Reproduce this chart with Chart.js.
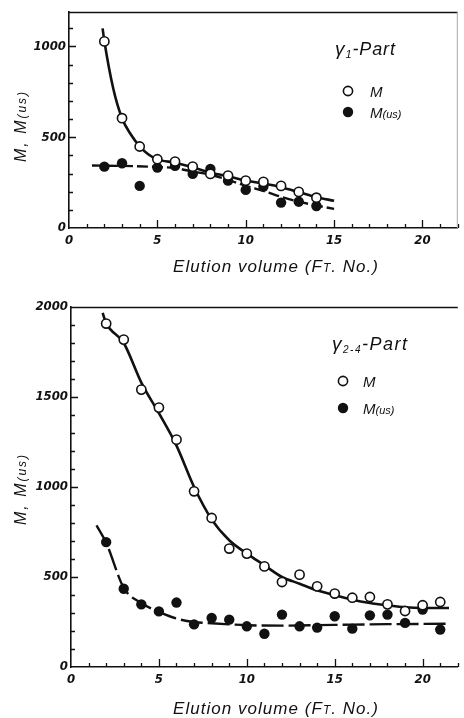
<!DOCTYPE html>
<html>
<head>
<meta charset="utf-8">
<script src="https://cdn.jsdelivr.net/npm/chart.js@4.4.1/dist/chart.umd.min.js"></script>
<style>
  html, body { margin: 0; padding: 0; background: #fff; }
  #wrap { position: relative; width: 464px; height: 718px; }
  canvas { position: absolute; left: 0; }
</style>
</head>
<body>
<div id="wrap">
  <canvas id="gamma1" width="464" height="290" style="top:0"></canvas>
  <canvas id="gamma24" width="464" height="428" style="top:290px"></canvas>
</div>
<script>
// gamma-1 part: fraction numbers and measured molecular weights
const G1_FRACTIONS = [2, 3, 4, 5, 6, 7, 8, 9, 10, 11, 12, 13, 14];
const G1_M = [1028, 605, 449, 379, 366, 338, 298, 289, 261, 254, 232, 199, 167];
const G1_MUS = [338, 357, 232, 333, 342, 298, 325, 261, 210, 228, 140, 145, 121];

// hand-drawn trend lines for gamma-1 (fraction, value)
const G1_M_FIT_X = [1.9, 2, 2.5, 3, 3.5, 4, 4.5, 5, 6, 7, 8, 9, 10, 11, 12, 13, 14, 15];
const G1_M_FIT_Y = [1100, 1030, 770, 605, 515, 450, 405, 378, 360, 335, 305, 285, 262, 245, 225, 198, 170, 150];
const G1_MUS_FIT_X = [1.3, 3, 5, 6, 7, 8, 9, 10, 11, 12, 13, 14, 15];
const G1_MUS_FIT_Y = [344, 342, 336, 330, 311, 293, 265, 232, 205, 172, 145, 124, 105];

// gamma-2..4 part
const G24_FRACTIONS = [2, 3, 4, 5, 6, 7, 8, 9, 10, 11, 12, 13, 14, 15, 16, 17, 18, 19, 20, 21];
const G24_M = [1908, 1819, 1541, 1441, 1263, 976, 828, 658, 630, 559, 472, 513, 448, 408, 385, 389, 348, 311, 343, 361];
const G24_MUS = [694, 435, 348, 309, 358, 237, 272, 263, 226, 185, 291, 226, 219, 282, 213, 287, 291, 245, 319, 208];

const G24_M_FIT_X = [1.8, 2, 3, 4, 5, 6, 7, 8, 9, 10, 11, 12, 13, 14, 15, 16, 17, 18, 19, 20, 21.5];
const G24_M_FIT_Y = [1967, 1910, 1800, 1580, 1410, 1230, 1000, 820, 704, 630, 565, 500, 463, 426, 398, 374, 356, 343, 332, 328, 328];
const G24_MUS_FIT_X = [1.45, 2, 3, 4, 5, 6, 7, 8, 9, 10, 12, 15, 18, 21.5];
const G24_MUS_FIT_Y = [787, 690, 440, 355, 306, 269, 250, 243, 237, 232, 230, 234, 238, 240];

const X_TICKS = [0, 5, 10, 15, 20];
const X_TITLE = [["Elution volume (F", 17], ["T", 12], [". No.)", 17]];
const Y_TITLE = [["M, M", 16], ["(us)", 12]];
const LEGEND_M = [["M", 15]];
const LEGEND_MUS = [["M", 15], ["(us)", 11]];

const INK = "#111";
const TEXT_FAMILY = '"Liberation Sans", Arial, sans-serif';
const TICK_FAMILY = '"Liberation Sans Narrow", "DejaVu Sans Condensed", "Liberation Sans", sans-serif';

function toPoints(xs, ys) {
  return xs.map((x, i) => ({ x, y: ys[i] }));
}

// draws italic text runs of mixed size, optionally stretched to a given width
function drawRuns(ctx, runs, x, y, width) {
  let natural = 0;
  let count = 0;
  for (const [text, size] of runs) {
    ctx.font = `italic ${size}px ${TEXT_FAMILY}`;
    natural += ctx.measureText(text).width;
    count += text.length;
  }
  const extra = width && count > 1 ? Math.max(0, (width - natural) / (count - 1)) : 0;
  let cx = x;
  for (const [text, size, shift = 0] of runs) {
    ctx.font = `italic ${size}px ${TEXT_FAMILY}`;
    for (const ch of text) {
      ctx.fillText(ch, cx, y + shift);
      cx += ctx.measureText(ch).width + extra;
    }
  }
}

const decorations = {
  id: "decorations",
  afterDatasetsDraw(chart, args, opts) {
    const { ctx, chartArea: a, scales: { x, y } } = chart;
    ctx.save();
    ctx.strokeStyle = INK;
    ctx.fillStyle = INK;
    ctx.lineWidth = 1.3;

    // inward tick marks
    ctx.beginPath();
    for (let v = 1; v <= x.max; v++) {
      const px = Math.round(x.getPixelForValue(v)) + 0.5;
      const len = v % 5 === 0 ? 8 : 4;
      ctx.moveTo(px, a.bottom);
      ctx.lineTo(px, a.bottom - len);
    }
    for (let v = 100; v < y.max; v += 100) {
      const py = Math.round(y.getPixelForValue(v)) + 0.5;
      const len = v % 500 === 0 ? 7 : 4;
      ctx.moveTo(a.left, py);
      ctx.lineTo(a.left + len, py);
    }
    ctx.stroke();

    // top edge of the frame
    ctx.lineWidth = 1.5;
    ctx.beginPath();
    ctx.moveTo(a.left, a.top + 0.5);
    ctx.lineTo(a.right, a.top + 0.5);
    ctx.stroke();
    if (opts.rightEdge) {
      ctx.strokeStyle = "#aaa";
      ctx.lineWidth = 1;
      ctx.beginPath();
      ctx.moveTo(a.right - 0.5, a.top);
      ctx.lineTo(a.right - 0.5, a.bottom);
      ctx.stroke();
      ctx.strokeStyle = INK;
    }

    ctx.textBaseline = "alphabetic";
    ctx.textAlign = "left";

    // axis titles
    drawRuns(ctx, X_TITLE, 173, opts.xTitleY, 205);
    ctx.save();
    ctx.translate(20, opts.yTitleY);
    ctx.rotate(-Math.PI / 2);
    drawRuns(ctx, Y_TITLE, -35, 6, 70);
    ctx.restore();

    // legend
    const lg = opts.legend;
    drawRuns(ctx, lg.heading, lg.headX, lg.headY, lg.headW);
    ctx.lineWidth = 1.6;
    ctx.beginPath();
    ctx.arc(lg.markX, lg.rowM, 4.6, 0, Math.PI * 2);
    ctx.fillStyle = "#fff";
    ctx.fill();
    ctx.stroke();
    ctx.fillStyle = INK;
    ctx.beginPath();
    ctx.arc(lg.markX, lg.rowMus, 5.2, 0, Math.PI * 2);
    ctx.fill();
    drawRuns(ctx, LEGEND_M, lg.textX, lg.rowM + 5.5);
    drawRuns(ctx, LEGEND_MUS, lg.textX, lg.rowMus + 5.5);
    ctx.restore();
  },
};

function buildChart(canvasId, cfg) {
  const tickFont = { family: TICK_FAMILY, size: 13, style: "italic", weight: "bold" };
  return new Chart(document.getElementById(canvasId), {
    type: "scatter",
    data: {
      datasets: [
        {
          label: "M",
          data: toPoints(cfg.fractions, cfg.m),
          pointRadius: 4.6,
          pointBorderWidth: 1.6,
          pointBackgroundColor: "#fff",
          pointBorderColor: INK,
          order: 0,
        },
        {
          label: "M(us)",
          data: toPoints(cfg.fractions, cfg.mus),
          pointRadius: 5.2,
          pointBorderWidth: 0,
          pointBackgroundColor: INK,
          pointBorderColor: INK,
          order: 1,
        },
        {
          label: "M trend",
          data: cfg.mFit,
          showLine: true,
          pointRadius: 0,
          borderColor: INK,
          borderWidth: 2.6,
          cubicInterpolationMode: "monotone",
          order: 2,
        },
        {
          label: "M(us) trend",
          data: cfg.musFit,
          showLine: true,
          pointRadius: 0,
          borderColor: INK,
          borderWidth: 2.4,
          borderDash: cfg.dash,
          cubicInterpolationMode: "monotone",
          order: 3,
        },
      ],
    },
    options: {
      responsive: false,
      animation: false,
      devicePixelRatio: 1,
      layout: { padding: { top: cfg.padTop, right: 0, left: 0, bottom: 0 } },
      plugins: {
        legend: { display: false },
        tooltip: { enabled: false },
        decorations: cfg.deco,
      },
      scales: {
        x: {
          type: "linear",
          min: 0,
          max: 22,
          grid: { display: false, drawTicks: false },
          border: { display: true, color: INK, width: 1.6 },
          afterBuildTicks(scale) {
            scale.ticks = X_TICKS.map((value) => ({ value }));
          },
          afterFit(scale) {
            scale.height = cfg.xHeight;
          },
          ticks: { color: INK, font: tickFont, padding: 5, maxRotation: 0, callback: (v) => String(v) },
        },
        y: {
          type: "linear",
          min: 0,
          max: cfg.yMax,
          grid: { display: false, drawTicks: false },
          border: { display: true, color: INK, width: 1.6 },
          afterBuildTicks(scale) {
            scale.ticks = cfg.yTicks.map((value) => ({ value }));
          },
          afterFit(scale) {
            scale.width = cfg.yWidth;
          },
          ticks: { color: INK, font: tickFont, padding: 3, callback: (v) => String(v) },
        },
      },
    },
    plugins: [decorations],
  });
}

buildChart("gamma1", {
  fractions: G1_FRACTIONS,
  m: G1_M,
  mus: G1_MUS,
  mFit: toPoints(G1_M_FIT_X, G1_M_FIT_Y),
  musFit: toPoints(G1_MUS_FIT_X, G1_MUS_FIT_Y),
  dash: [11, 4],
  yMax: 1190,
  yTicks: [0, 500, 1000],
  padTop: 12,
  xHeight: 62,
  yWidth: 69,
  deco: {
    rightEdge: true,
    xTitleY: 272,
    yTitleY: 127,
    legend: {
      heading: [["γ", 19], ["1", 11, 3], ["-Part", 18]],
      headX: 335, headY: 55, headW: 60,
      markX: 348, textX: 370, rowM: 91, rowMus: 112,
    },
  },
});

buildChart("gamma24", {
  fractions: G24_FRACTIONS,
  m: G24_M,
  mus: G24_MUS,
  mFit: toPoints(G24_M_FIT_X, G24_M_FIT_Y),
  musFit: toPoints(G24_MUS_FIT_X, G24_MUS_FIT_Y),
  dash: [22, 5],
  yMax: 2000,
  yTicks: [0, 500, 1000, 1500, 2000],
  padTop: 17,
  xHeight: 51,
  yWidth: 71,
  deco: {
    rightEdge: false,
    xTitleY: 424,
    yTitleY: 200,
    legend: {
      heading: [["γ", 19], ["2-4", 10, 3], ["-Part", 18]],
      headX: 332, headY: 60, headW: 75,
      markX: 343, textX: 363, rowM: 91, rowMus: 118,
    },
  },
});
</script>
</body>
</html>
